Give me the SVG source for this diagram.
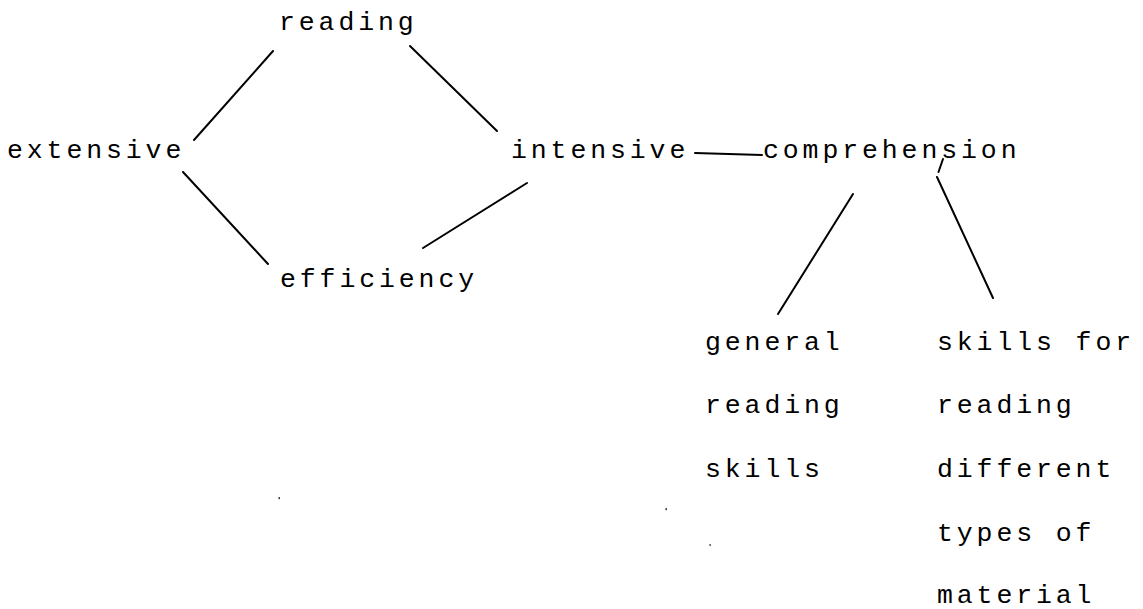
<svg xmlns="http://www.w3.org/2000/svg" width="1143" height="609" viewBox="0 0 1143 609">
  <style>
    .lbl { font-family: "Liberation Mono", "DejaVu Sans Mono", monospace; font-size: 26.5px; letter-spacing: 3.9px; fill: #000; }
    .edge { stroke: #000; stroke-width: 2; stroke-linecap: round; fill: none; }
    .speck { fill: #333; }
  </style>
  <rect x="0" y="0" width="1143" height="609" fill="#fff"/>
  <g id="connectors">
    <line class="edge" x1="273" y1="51" x2="194" y2="140"/>
    <line class="edge" x1="410" y1="46" x2="497" y2="131"/>
    <line class="edge" x1="183" y1="172" x2="268" y2="264"/>
    <line class="edge" x1="423" y1="248" x2="527" y2="183"/>
    <line class="edge" x1="695" y1="153" x2="762" y2="155"/>
    <line class="edge" x1="853" y1="194" x2="778" y2="314"/>
    <line class="edge" x1="937" y1="177" x2="993" y2="298"/>
    <line class="edge" x1="943" y1="159" x2="938.5" y2="172" stroke-width="1.6"/>
  </g>
  <g id="node-reading"><text class="lbl" x="279" y="30">reading</text></g>
  <g id="node-extensive"><text class="lbl" x="7" y="158">extensive</text></g>
  <g id="node-intensive"><text class="lbl" x="511" y="158">intensive</text></g>
  <g id="node-efficiency"><text class="lbl" x="280" y="287">efficiency</text></g>
  <g id="node-comprehension"><text class="lbl" x="763" y="158">comprehension</text></g>
  <g id="node-general">
    <text class="lbl" x="705" y="350">general</text>
    <text class="lbl" x="705" y="413">reading</text>
    <text class="lbl" x="705" y="477">skills</text>
  </g>
  <g id="node-skills-for">
    <text class="lbl" x="937" y="350">skills for</text>
    <text class="lbl" x="937" y="413">reading</text>
    <text class="lbl" x="937" y="477">different</text>
    <text class="lbl" x="937" y="541">types of</text>
    <text class="lbl" x="937" y="603">material</text>
  </g>
  <g id="specks">
    <rect class="speck" x="278.5" y="497" width="1.4" height="2.2"/>
    <rect class="speck" x="665.5" y="508" width="1.4" height="2.2"/>
    <rect class="speck" x="709.5" y="544" width="1.2" height="2"/>
  </g>
</svg>
